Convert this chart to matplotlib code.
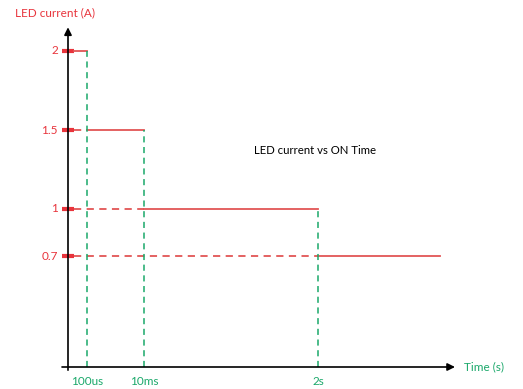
import matplotlib.pyplot as plt

# current levels (A) and the schematic time positions where each level ends
levels = [2, 1.5, 1, 0.7]
level_labels = ["2", "1.5", "1", "0.7"]
t_ends = [0.19, 0.76, 2.50, 3.72]
t_labels = ["100us", "10ms", "2s"]

red = "#e8343c"
line_red = "#e25555"
green = "#1aa86a"

plt.rcParams['font.family'] = ['Lato', 'DejaVu Sans']

fig = plt.figure(figsize=(5.23, 3.89), dpi=100)
ax = fig.add_axes([0, 0, 1, 1])
ax.set_xlim(-0.68, 4.55)
ax.set_ylim(-22 / 158, 367 / 158)
ax.axis('off')

# axes with arrow heads
arrow = dict(arrowstyle='-|>', color='black', lw=1.2, mutation_scale=11, shrinkA=0, shrinkB=0)
ax.annotate("", xy=(0, 2.15), xytext=(0, -0.02), arrowprops=arrow)
ax.annotate("", xy=(3.87, 0), xytext=(-0.06, 0), arrowprops=arrow)

start = 0.06
for i, (lvl, lab) in enumerate(zip(levels, level_labels)):
    # tick mark + label
    ax.plot([-0.06, 0.06], [lvl, lvl], color=red, lw=3, solid_capstyle='butt')
    ax.text(-0.1, lvl, lab, color=red, fontsize=8.5, ha='right', va='center')
    x0 = t_ends[i - 1] if i > 0 else start
    # dashed guide from the axis to where the level begins
    if i > 0:
        ax.plot([start, x0], [lvl, lvl], color=line_red, lw=1.3, ls=(0, (4, 3)))
    ax.plot([x0, t_ends[i]], [lvl, lvl], color=line_red, lw=1.3)

# green dashed verticals at the switching times
for t, lvl, lab in zip(t_ends[:3], levels[:3], t_labels):
    ax.plot([t, t], [0, lvl], color=green, lw=1.1, ls=(0, (4, 3)))
    ax.text(t, -0.09, lab, color=green, fontsize=8.5, ha='center', va='center')

ax.text(-0.13, 2.24, "LED current (A)", color=red, fontsize=8.5, ha='center', va='center')
ax.text(4.16, 0.0, "Time (s)", color=green, fontsize=8.5, ha='center', va='center')
ax.text(2.47, 1.373, "LED current vs ON Time", color='black', fontsize=8.2, ha='center', va='center')

fig.savefig("out.png", dpi=100)
